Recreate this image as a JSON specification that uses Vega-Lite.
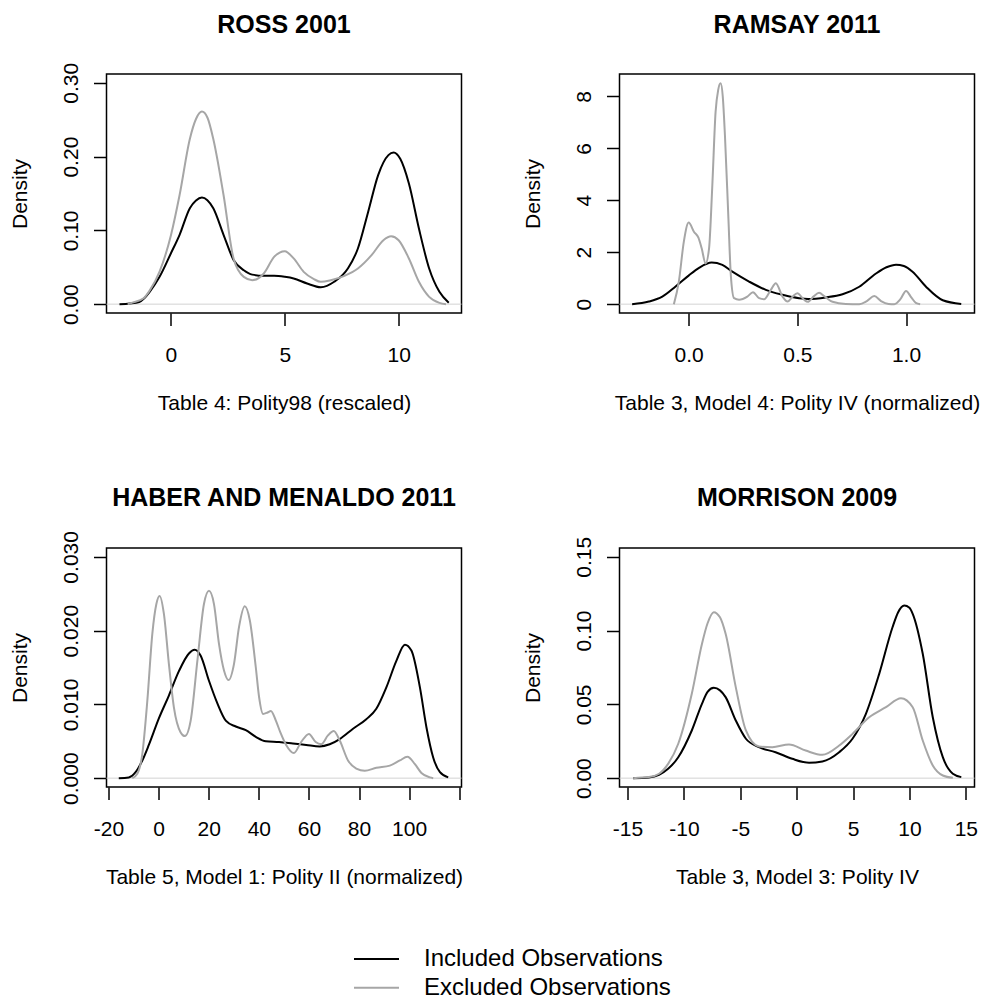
{
  "$schema": "https://vega.github.io/schema/vega-lite/v6.json",
  "padding": {"left": 8.5, "top": 12, "right": 0, "bottom": 0},
  "bounds": "flush",
  "columns": 2,
  "spacing": {"row": 235, "column": 158},
  "config": {
    "font": "Liberation Sans",
    "view": {"stroke": "black", "strokeWidth": 1.5},
    "axis": {"grid": false, "domain": false, "tickColor": "black", "tickWidth": 1.5, "labelColor": "black", "titleColor": "black", "labelFontSize": 21, "titleFontSize": 21, "titleFontWeight": "normal", "labelFont": "Liberation Sans", "titleFont": "Liberation Sans", "labelFlush": false, "labelOverlap": false, "labelBound": false},
    "axisX": {"tickSize": 12.5, "labelPadding": 18.5, "titlePadding": 27},
    "axisY": {"tickSize": 13, "labelPadding": 12, "titlePadding": 30, "labelAngle": -90, "labelAlign": "center", "labelBaseline": "bottom"},
    "title": {"fontSize": 25, "fontWeight": "bold", "font": "Liberation Sans", "color": "black", "anchor": "middle", "frame": "group", "baseline": "alphabetic"},
    "line": {"strokeWidth": 2, "interpolate": "monotone"}
  },
  "resolve": {"scale": {"x": "independent", "y": "independent", "color": "shared"}, "axis": {"x": "independent", "y": "independent"}},
  "datasets": {
    "ross": [
      {"x": -2.26, "y": 0, "s": "Included Observations"},
      {"x": -1.8, "y": 0.001, "s": "Included Observations"},
      {"x": -1.39, "y": 0.003, "s": "Included Observations"},
      {"x": -1.17, "y": 0.008, "s": "Included Observations"},
      {"x": -0.95, "y": 0.016, "s": "Included Observations"},
      {"x": -0.5, "y": 0.037, "s": "Included Observations"},
      {"x": 0, "y": 0.069, "s": "Included Observations"},
      {"x": 0.38, "y": 0.094, "s": "Included Observations"},
      {"x": 0.83, "y": 0.13, "s": "Included Observations"},
      {"x": 1.1, "y": 0.1405, "s": "Included Observations"},
      {"x": 1.36, "y": 0.1445, "s": "Included Observations"},
      {"x": 1.6, "y": 0.141, "s": "Included Observations"},
      {"x": 1.86, "y": 0.13, "s": "Included Observations"},
      {"x": 2.31, "y": 0.094, "s": "Included Observations"},
      {"x": 2.75, "y": 0.06, "s": "Included Observations"},
      {"x": 3.2, "y": 0.046, "s": "Included Observations"},
      {"x": 3.57, "y": 0.04, "s": "Included Observations"},
      {"x": 4.08, "y": 0.0384, "s": "Included Observations"},
      {"x": 4.53, "y": 0.0384, "s": "Included Observations"},
      {"x": 5.0, "y": 0.037, "s": "Included Observations"},
      {"x": 5.39, "y": 0.0348, "s": "Included Observations"},
      {"x": 5.98, "y": 0.028, "s": "Included Observations"},
      {"x": 6.58, "y": 0.023, "s": "Included Observations"},
      {"x": 7.17, "y": 0.0303, "s": "Included Observations"},
      {"x": 7.77, "y": 0.0483, "s": "Included Observations"},
      {"x": 8.21, "y": 0.0754, "s": "Included Observations"},
      {"x": 8.66, "y": 0.125, "s": "Included Observations"},
      {"x": 9.1, "y": 0.175, "s": "Included Observations"},
      {"x": 9.55, "y": 0.202, "s": "Included Observations"},
      {"x": 9.78, "y": 0.2055, "s": "Included Observations"},
      {"x": 10.07, "y": 0.197, "s": "Included Observations"},
      {"x": 10.45, "y": 0.1635, "s": "Included Observations"},
      {"x": 10.89, "y": 0.1025, "s": "Included Observations"},
      {"x": 11.34, "y": 0.0483, "s": "Included Observations"},
      {"x": 11.79, "y": 0.0167, "s": "Included Observations"},
      {"x": 12.2, "y": 0.002, "s": "Included Observations"},
      {"x": -1.9, "y": 0, "s": "Excluded Observations"},
      {"x": -1.69, "y": 0.002, "s": "Excluded Observations"},
      {"x": -1.2, "y": 0.008, "s": "Excluded Observations"},
      {"x": -0.95, "y": 0.0176, "s": "Excluded Observations"},
      {"x": -0.5, "y": 0.044, "s": "Excluded Observations"},
      {"x": 0, "y": 0.0935, "s": "Excluded Observations"},
      {"x": 0.38, "y": 0.148, "s": "Excluded Observations"},
      {"x": 0.83, "y": 0.224, "s": "Excluded Observations"},
      {"x": 1.1, "y": 0.251, "s": "Excluded Observations"},
      {"x": 1.36, "y": 0.261, "s": "Excluded Observations"},
      {"x": 1.6, "y": 0.253, "s": "Excluded Observations"},
      {"x": 1.86, "y": 0.224, "s": "Excluded Observations"},
      {"x": 2.31, "y": 0.148, "s": "Excluded Observations"},
      {"x": 2.75, "y": 0.062, "s": "Excluded Observations"},
      {"x": 3.2, "y": 0.037, "s": "Excluded Observations"},
      {"x": 3.57, "y": 0.0325, "s": "Excluded Observations"},
      {"x": 4.08, "y": 0.0416, "s": "Excluded Observations"},
      {"x": 4.53, "y": 0.064, "s": "Excluded Observations"},
      {"x": 5.0, "y": 0.0718, "s": "Excluded Observations"},
      {"x": 5.39, "y": 0.062, "s": "Excluded Observations"},
      {"x": 5.83, "y": 0.0438, "s": "Excluded Observations"},
      {"x": 6.28, "y": 0.0339, "s": "Excluded Observations"},
      {"x": 6.58, "y": 0.0303, "s": "Excluded Observations"},
      {"x": 7.02, "y": 0.0325, "s": "Excluded Observations"},
      {"x": 7.62, "y": 0.0384, "s": "Excluded Observations"},
      {"x": 8.21, "y": 0.0483, "s": "Excluded Observations"},
      {"x": 8.81, "y": 0.0664, "s": "Excluded Observations"},
      {"x": 9.33, "y": 0.0867, "s": "Excluded Observations"},
      {"x": 9.67, "y": 0.0921, "s": "Excluded Observations"},
      {"x": 10.0, "y": 0.0867, "s": "Excluded Observations"},
      {"x": 10.45, "y": 0.0619, "s": "Excluded Observations"},
      {"x": 10.89, "y": 0.0303, "s": "Excluded Observations"},
      {"x": 11.34, "y": 0.0099, "s": "Excluded Observations"},
      {"x": 11.79, "y": 0.0018, "s": "Excluded Observations"},
      {"x": 12.08, "y": 0, "s": "Excluded Observations"}
    ],
    "ramsay": [
      {"x": -0.26, "y": 0, "s": "Included Observations"},
      {"x": -0.183, "y": 0.1, "s": "Included Observations"},
      {"x": -0.121, "y": 0.29, "s": "Included Observations"},
      {"x": -0.06, "y": 0.68, "s": "Included Observations"},
      {"x": 0.0, "y": 1.1, "s": "Included Observations"},
      {"x": 0.048, "y": 1.4, "s": "Included Observations"},
      {"x": 0.106, "y": 1.6, "s": "Included Observations"},
      {"x": 0.155, "y": 1.51, "s": "Included Observations"},
      {"x": 0.201, "y": 1.25, "s": "Included Observations"},
      {"x": 0.278, "y": 0.87, "s": "Included Observations"},
      {"x": 0.355, "y": 0.55, "s": "Included Observations"},
      {"x": 0.432, "y": 0.36, "s": "Included Observations"},
      {"x": 0.508, "y": 0.23, "s": "Included Observations"},
      {"x": 0.55, "y": 0.2, "s": "Included Observations"},
      {"x": 0.631, "y": 0.26, "s": "Included Observations"},
      {"x": 0.708, "y": 0.38, "s": "Included Observations"},
      {"x": 0.785, "y": 0.67, "s": "Included Observations"},
      {"x": 0.862, "y": 1.18, "s": "Included Observations"},
      {"x": 0.91, "y": 1.42, "s": "Included Observations"},
      {"x": 0.954, "y": 1.52, "s": "Included Observations"},
      {"x": 0.99, "y": 1.47, "s": "Included Observations"},
      {"x": 1.03, "y": 1.25, "s": "Included Observations"},
      {"x": 1.092, "y": 0.67, "s": "Included Observations"},
      {"x": 1.169, "y": 0.15, "s": "Included Observations"},
      {"x": 1.254, "y": 0.01, "s": "Included Observations"},
      {"x": -0.068, "y": 0, "s": "Excluded Observations"},
      {"x": -0.045, "y": 0.87, "s": "Excluded Observations"},
      {"x": -0.022, "y": 2.41, "s": "Excluded Observations"},
      {"x": 0.0, "y": 3.14, "s": "Excluded Observations"},
      {"x": 0.025, "y": 2.78, "s": "Excluded Observations"},
      {"x": 0.045, "y": 2.56, "s": "Excluded Observations"},
      {"x": 0.06, "y": 2.15, "s": "Excluded Observations"},
      {"x": 0.078, "y": 1.57, "s": "Excluded Observations"},
      {"x": 0.094, "y": 2.15, "s": "Excluded Observations"},
      {"x": 0.109, "y": 4.58, "s": "Excluded Observations"},
      {"x": 0.124, "y": 7.4, "s": "Excluded Observations"},
      {"x": 0.136, "y": 8.25, "s": "Excluded Observations"},
      {"x": 0.147, "y": 8.5, "s": "Excluded Observations"},
      {"x": 0.157, "y": 8.0, "s": "Excluded Observations"},
      {"x": 0.167, "y": 6.5, "s": "Excluded Observations"},
      {"x": 0.183, "y": 3.3, "s": "Excluded Observations"},
      {"x": 0.194, "y": 1.13, "s": "Excluded Observations"},
      {"x": 0.209, "y": 0.23, "s": "Excluded Observations"},
      {"x": 0.232, "y": 0.17, "s": "Excluded Observations"},
      {"x": 0.27, "y": 0.29, "s": "Excluded Observations"},
      {"x": 0.296, "y": 0.46, "s": "Excluded Observations"},
      {"x": 0.324, "y": 0.23, "s": "Excluded Observations"},
      {"x": 0.347, "y": 0.19, "s": "Excluded Observations"},
      {"x": 0.378, "y": 0.55, "s": "Excluded Observations"},
      {"x": 0.401, "y": 0.81, "s": "Excluded Observations"},
      {"x": 0.432, "y": 0.29, "s": "Excluded Observations"},
      {"x": 0.455, "y": 0.1, "s": "Excluded Observations"},
      {"x": 0.478, "y": 0.29, "s": "Excluded Observations"},
      {"x": 0.5, "y": 0.42, "s": "Excluded Observations"},
      {"x": 0.531, "y": 0.17, "s": "Excluded Observations"},
      {"x": 0.548, "y": 0.09, "s": "Excluded Observations"},
      {"x": 0.575, "y": 0.3, "s": "Excluded Observations"},
      {"x": 0.6, "y": 0.44, "s": "Excluded Observations"},
      {"x": 0.625, "y": 0.3, "s": "Excluded Observations"},
      {"x": 0.662, "y": 0.09, "s": "Excluded Observations"},
      {"x": 0.723, "y": 0.01, "s": "Excluded Observations"},
      {"x": 0.785, "y": 0, "s": "Excluded Observations"},
      {"x": 0.82, "y": 0.12, "s": "Excluded Observations"},
      {"x": 0.854, "y": 0.31, "s": "Excluded Observations"},
      {"x": 0.885, "y": 0.12, "s": "Excluded Observations"},
      {"x": 0.92, "y": 0.01, "s": "Excluded Observations"},
      {"x": 0.946, "y": 0, "s": "Excluded Observations"},
      {"x": 0.975, "y": 0.2, "s": "Excluded Observations"},
      {"x": 1.0, "y": 0.51, "s": "Excluded Observations"},
      {"x": 1.025, "y": 0.25, "s": "Excluded Observations"},
      {"x": 1.045, "y": 0.05, "s": "Excluded Observations"},
      {"x": 1.065, "y": 0, "s": "Excluded Observations"}
    ],
    "haber": [
      {"x": -15.9, "y": 0, "s": "Included Observations"},
      {"x": -11.9, "y": 0.0001, "s": "Included Observations"},
      {"x": -9.2, "y": 0.0008, "s": "Included Observations"},
      {"x": -6.5, "y": 0.0024, "s": "Included Observations"},
      {"x": -3.9, "y": 0.0045, "s": "Included Observations"},
      {"x": 0.1, "y": 0.0081, "s": "Included Observations"},
      {"x": 4.1, "y": 0.0112, "s": "Included Observations"},
      {"x": 8.1, "y": 0.0145, "s": "Included Observations"},
      {"x": 12.1, "y": 0.0169, "s": "Included Observations"},
      {"x": 14.4, "y": 0.0174, "s": "Included Observations"},
      {"x": 16.8, "y": 0.0166, "s": "Included Observations"},
      {"x": 20.1, "y": 0.0132, "s": "Included Observations"},
      {"x": 23.5, "y": 0.0101, "s": "Included Observations"},
      {"x": 26.8, "y": 0.0078, "s": "Included Observations"},
      {"x": 30.8, "y": 0.007, "s": "Included Observations"},
      {"x": 34.8, "y": 0.0065, "s": "Included Observations"},
      {"x": 38.8, "y": 0.0056, "s": "Included Observations"},
      {"x": 42.8, "y": 0.005, "s": "Included Observations"},
      {"x": 48.1, "y": 0.0049, "s": "Included Observations"},
      {"x": 53.6, "y": 0.0047, "s": "Included Observations"},
      {"x": 58.9, "y": 0.0045, "s": "Included Observations"},
      {"x": 64.3, "y": 0.0043, "s": "Included Observations"},
      {"x": 68.3, "y": 0.0046, "s": "Included Observations"},
      {"x": 72.3, "y": 0.0053, "s": "Included Observations"},
      {"x": 77.6, "y": 0.0067, "s": "Included Observations"},
      {"x": 82.9, "y": 0.008, "s": "Included Observations"},
      {"x": 86.9, "y": 0.0094, "s": "Included Observations"},
      {"x": 90.9, "y": 0.0123, "s": "Included Observations"},
      {"x": 94.9, "y": 0.0159, "s": "Included Observations"},
      {"x": 98.3, "y": 0.0181, "s": "Included Observations"},
      {"x": 100.9, "y": 0.0173, "s": "Included Observations"},
      {"x": 104.3, "y": 0.0123, "s": "Included Observations"},
      {"x": 106.9, "y": 0.0069, "s": "Included Observations"},
      {"x": 109.6, "y": 0.0028, "s": "Included Observations"},
      {"x": 112.3, "y": 0.0008, "s": "Included Observations"},
      {"x": 115.6, "y": 0.0001, "s": "Included Observations"},
      {"x": -10.5, "y": 0, "s": "Excluded Observations"},
      {"x": -8.5, "y": 0.0006, "s": "Excluded Observations"},
      {"x": -6.5, "y": 0.0033, "s": "Excluded Observations"},
      {"x": -4.5, "y": 0.0105, "s": "Excluded Observations"},
      {"x": -2.5, "y": 0.0196, "s": "Excluded Observations"},
      {"x": -0.9, "y": 0.0236, "s": "Excluded Observations"},
      {"x": 0.4, "y": 0.0247, "s": "Excluded Observations"},
      {"x": 2.1, "y": 0.0223, "s": "Excluded Observations"},
      {"x": 4.1, "y": 0.0155, "s": "Excluded Observations"},
      {"x": 6.1, "y": 0.0096, "s": "Excluded Observations"},
      {"x": 8.8, "y": 0.0062, "s": "Excluded Observations"},
      {"x": 10.5, "y": 0.0057, "s": "Excluded Observations"},
      {"x": 12.8, "y": 0.0078, "s": "Excluded Observations"},
      {"x": 15.5, "y": 0.016, "s": "Excluded Observations"},
      {"x": 18.1, "y": 0.0236, "s": "Excluded Observations"},
      {"x": 20.1, "y": 0.0254, "s": "Excluded Observations"},
      {"x": 22.1, "y": 0.0236, "s": "Excluded Observations"},
      {"x": 24.1, "y": 0.0182, "s": "Excluded Observations"},
      {"x": 26.1, "y": 0.0146, "s": "Excluded Observations"},
      {"x": 27.9, "y": 0.0133, "s": "Excluded Observations"},
      {"x": 30.1, "y": 0.0155, "s": "Excluded Observations"},
      {"x": 32.1, "y": 0.0205, "s": "Excluded Observations"},
      {"x": 34.4, "y": 0.0233, "s": "Excluded Observations"},
      {"x": 36.4, "y": 0.0214, "s": "Excluded Observations"},
      {"x": 38.8, "y": 0.015, "s": "Excluded Observations"},
      {"x": 40.1, "y": 0.011, "s": "Excluded Observations"},
      {"x": 41.7, "y": 0.0087, "s": "Excluded Observations"},
      {"x": 43.5, "y": 0.0089, "s": "Excluded Observations"},
      {"x": 44.8, "y": 0.0091, "s": "Excluded Observations"},
      {"x": 46.8, "y": 0.0078, "s": "Excluded Observations"},
      {"x": 48.6, "y": 0.0062, "s": "Excluded Observations"},
      {"x": 50.9, "y": 0.0045, "s": "Excluded Observations"},
      {"x": 54.0, "y": 0.0034, "s": "Excluded Observations"},
      {"x": 56.9, "y": 0.0049, "s": "Excluded Observations"},
      {"x": 60.0, "y": 0.006, "s": "Excluded Observations"},
      {"x": 62.7, "y": 0.0049, "s": "Excluded Observations"},
      {"x": 64.9, "y": 0.0046, "s": "Excluded Observations"},
      {"x": 67.6, "y": 0.0058, "s": "Excluded Observations"},
      {"x": 69.9, "y": 0.0064, "s": "Excluded Observations"},
      {"x": 72.3, "y": 0.0051, "s": "Excluded Observations"},
      {"x": 75.6, "y": 0.0024, "s": "Excluded Observations"},
      {"x": 78.9, "y": 0.0013, "s": "Excluded Observations"},
      {"x": 82.3, "y": 0.001, "s": "Excluded Observations"},
      {"x": 86.9, "y": 0.0014, "s": "Excluded Observations"},
      {"x": 92.3, "y": 0.0017, "s": "Excluded Observations"},
      {"x": 96.3, "y": 0.0024, "s": "Excluded Observations"},
      {"x": 99.3, "y": 0.0029, "s": "Excluded Observations"},
      {"x": 102.3, "y": 0.0019, "s": "Excluded Observations"},
      {"x": 104.9, "y": 0.0007, "s": "Excluded Observations"},
      {"x": 108.3, "y": 0.0001, "s": "Excluded Observations"},
      {"x": 109.6, "y": 0, "s": "Excluded Observations"}
    ],
    "morrison": [
      {"x": -14.5, "y": 0, "s": "Included Observations"},
      {"x": -13.1, "y": 0.0005, "s": "Included Observations"},
      {"x": -12.2, "y": 0.0023, "s": "Included Observations"},
      {"x": -11.4, "y": 0.0063, "s": "Included Observations"},
      {"x": -10.5, "y": 0.0142, "s": "Included Observations"},
      {"x": -9.3, "y": 0.0323, "s": "Included Observations"},
      {"x": -8.4, "y": 0.0504, "s": "Included Observations"},
      {"x": -7.9, "y": 0.0585, "s": "Included Observations"},
      {"x": -7.35, "y": 0.0612, "s": "Included Observations"},
      {"x": -6.8, "y": 0.0595, "s": "Included Observations"},
      {"x": -6.3, "y": 0.0549, "s": "Included Observations"},
      {"x": -5.4, "y": 0.0391, "s": "Included Observations"},
      {"x": -4.5, "y": 0.0267, "s": "Included Observations"},
      {"x": -3.35, "y": 0.021, "s": "Included Observations"},
      {"x": -1.87, "y": 0.0176, "s": "Included Observations"},
      {"x": -0.39, "y": 0.0131, "s": "Included Observations"},
      {"x": 1.1, "y": 0.0104, "s": "Included Observations"},
      {"x": 2.28, "y": 0.0113, "s": "Included Observations"},
      {"x": 3.77, "y": 0.0176, "s": "Included Observations"},
      {"x": 4.95, "y": 0.0267, "s": "Included Observations"},
      {"x": 6.14, "y": 0.0436, "s": "Included Observations"},
      {"x": 7.32, "y": 0.0707, "s": "Included Observations"},
      {"x": 8.5, "y": 0.1023, "s": "Included Observations"},
      {"x": 9.0, "y": 0.1125, "s": "Included Observations"},
      {"x": 9.54, "y": 0.117, "s": "Included Observations"},
      {"x": 10.0, "y": 0.1155, "s": "Included Observations"},
      {"x": 10.29, "y": 0.1114, "s": "Included Observations"},
      {"x": 11.18, "y": 0.0843, "s": "Included Observations"},
      {"x": 12.07, "y": 0.0413, "s": "Included Observations"},
      {"x": 12.96, "y": 0.0142, "s": "Included Observations"},
      {"x": 13.85, "y": 0.003, "s": "Included Observations"},
      {"x": 14.6, "y": 0.0007, "s": "Included Observations"},
      {"x": -14.5, "y": 0, "s": "Excluded Observations"},
      {"x": -13.1, "y": 0.0007, "s": "Excluded Observations"},
      {"x": -12.2, "y": 0.003, "s": "Excluded Observations"},
      {"x": -11.4, "y": 0.0097, "s": "Excluded Observations"},
      {"x": -10.5, "y": 0.0233, "s": "Excluded Observations"},
      {"x": -9.3, "y": 0.0572, "s": "Excluded Observations"},
      {"x": -8.4, "y": 0.091, "s": "Excluded Observations"},
      {"x": -7.9, "y": 0.105, "s": "Excluded Observations"},
      {"x": -7.35, "y": 0.1125, "s": "Excluded Observations"},
      {"x": -6.8, "y": 0.109, "s": "Excluded Observations"},
      {"x": -6.3, "y": 0.0978, "s": "Excluded Observations"},
      {"x": -5.4, "y": 0.0617, "s": "Excluded Observations"},
      {"x": -4.5, "y": 0.0323, "s": "Excluded Observations"},
      {"x": -3.35, "y": 0.0215, "s": "Excluded Observations"},
      {"x": -2.16, "y": 0.021, "s": "Excluded Observations"},
      {"x": -0.68, "y": 0.0228, "s": "Excluded Observations"},
      {"x": 0.8, "y": 0.0187, "s": "Excluded Observations"},
      {"x": 2.28, "y": 0.0158, "s": "Excluded Observations"},
      {"x": 3.77, "y": 0.0221, "s": "Excluded Observations"},
      {"x": 4.95, "y": 0.03, "s": "Excluded Observations"},
      {"x": 6.43, "y": 0.0413, "s": "Excluded Observations"},
      {"x": 7.92, "y": 0.0481, "s": "Excluded Observations"},
      {"x": 9.25, "y": 0.0542, "s": "Excluded Observations"},
      {"x": 10.29, "y": 0.0481, "s": "Excluded Observations"},
      {"x": 11.18, "y": 0.0255, "s": "Excluded Observations"},
      {"x": 12.07, "y": 0.0086, "s": "Excluded Observations"},
      {"x": 12.96, "y": 0.0018, "s": "Excluded Observations"},
      {"x": 13.85, "y": 0.0002, "s": "Excluded Observations"}
    ]
  },
  "concat": [
    {
      "width": 355, "height": 239,
      "title": {"text": "ROSS 2001", "offset": 24},
      "layer": [
        {"data": {"values": [{}]}, "mark": {"type": "rule", "color": "#d3d3d3", "strokeWidth": 1}, "encoding": {"y": {"datum": 0, "type": "quantitative"}}},
        {
          "data": {"name": "ross"},
          "mark": "line",
          "encoding": {
            "x": {"field": "x", "type": "quantitative", "scale": {"domain": [-2.83, 12.76], "nice": false, "zero": false}, "axis": {"values": [0, 5, 10], "title": "Table 4: Polity98 (rescaled)"}},
            "y": {"field": "y", "type": "quantitative", "scale": {"domain": [-0.012, 0.312], "nice": false, "zero": false}, "axis": {"values": [0, 0.05, 0.1, 0.15, 0.2, 0.25, 0.3], "labelExpr": "abs(round(datum.value*100) % 10) < 0.5 ? format(datum.value, '.2f') : ''", "title": "Density"}},
            "color": {"field": "s", "type": "nominal", "scale": {"domain": ["Included Observations", "Excluded Observations"], "range": ["#000000", "#a6a6a6"]}, "legend": {"orient": "none", "legendX": 246.5, "legendY": 873, "title": null, "symbolType": "stroke", "symbolSize": 2025, "symbolStrokeWidth": 2, "clipHeight": 24, "labelFontSize": 24, "labelOffset": 24, "rowPadding": 4.7, "padding": 0, "labelColor": "black", "labelFont": "Liberation Sans", "labelLimit": 0}}
          }
        }
      ]
    },
    {
      "width": 355, "height": 239,
      "title": {"text": "RAMSAY 2011", "offset": 35.6},
      "layer": [
        {"data": {"values": [{}]}, "mark": {"type": "rule", "color": "#d3d3d3", "strokeWidth": 1}, "encoding": {"y": {"datum": 0, "type": "quantitative"}}},
        {
          "data": {"name": "ramsay"},
          "mark": "line",
          "encoding": {
            "x": {"field": "x", "type": "quantitative", "scale": {"domain": [-0.318, 1.315], "nice": false, "zero": false}, "axis": {"values": [0, 0.5, 1], "format": ".1f", "title": "Table 3, Model 4: Polity IV (normalized)"}},
            "y": {"field": "y", "type": "quantitative", "scale": {"domain": [-0.34, 8.86], "nice": false, "zero": false}, "axis": {"values": [0, 2, 4, 6, 8], "format": "d", "title": "Density"}},
            "color": {"field": "s", "type": "nominal", "scale": {"domain": ["Included Observations", "Excluded Observations"], "range": ["#000000", "#a6a6a6"]}}
          }
        }
      ]
    },
    {
      "width": 355, "height": 239,
      "title": {"text": "HABER AND MENALDO 2011", "offset": 20},
      "layer": [
        {"data": {"values": [{}]}, "mark": {"type": "rule", "color": "#d3d3d3", "strokeWidth": 1}, "encoding": {"y": {"datum": 0, "type": "quantitative"}}},
        {
          "data": {"name": "haber"},
          "mark": "line",
          "encoding": {
            "x": {"field": "x", "type": "quantitative", "scale": {"domain": [-20.8, 120.9], "nice": false, "zero": false}, "axis": {"values": [-20, 0, 20, 40, 60, 80, 100, 120], "labelExpr": "datum.value == 120 ? '' : (datum.value < 0 ? '-' + format(abs(datum.value), 'd') : format(datum.value, 'd'))", "title": "Table 5, Model 1: Polity II (normalized)"}},
            "y": {"field": "y", "type": "quantitative", "scale": {"domain": [-0.0012, 0.0312], "nice": false, "zero": false}, "axis": {"values": [0, 0.005, 0.01, 0.015, 0.02, 0.025, 0.03], "labelExpr": "abs(round(datum.value*1000) % 10) < 0.5 ? format(datum.value, '.3f') : ''", "title": "Density"}},
            "color": {"field": "s", "type": "nominal", "scale": {"domain": ["Included Observations", "Excluded Observations"], "range": ["#000000", "#a6a6a6"]}}
          }
        }
      ]
    },
    {
      "width": 355, "height": 239,
      "title": {"text": "MORRISON 2009", "offset": 25.8},
      "layer": [
        {"data": {"values": [{}]}, "mark": {"type": "rule", "color": "#d3d3d3", "strokeWidth": 1}, "encoding": {"y": {"datum": 0, "type": "quantitative"}}},
        {
          "data": {"name": "morrison"},
          "mark": "line",
          "encoding": {
            "x": {"field": "x", "type": "quantitative", "scale": {"domain": [-15.71, 15.77], "nice": false, "zero": false}, "axis": {"values": [-15, -10, -5, 0, 5, 10, 15], "labelExpr": "datum.value < 0 ? '-' + format(abs(datum.value), 'd') : format(datum.value, 'd')", "title": "Table 3, Model 3: Polity IV"}},
            "y": {"field": "y", "type": "quantitative", "scale": {"domain": [-0.006, 0.156], "nice": false, "zero": false}, "axis": {"values": [0, 0.05, 0.1, 0.15], "format": ".2f", "title": "Density"}},
            "color": {"field": "s", "type": "nominal", "scale": {"domain": ["Included Observations", "Excluded Observations"], "range": ["#000000", "#a6a6a6"]}}
          }
        }
      ]
    }
  ]
}
